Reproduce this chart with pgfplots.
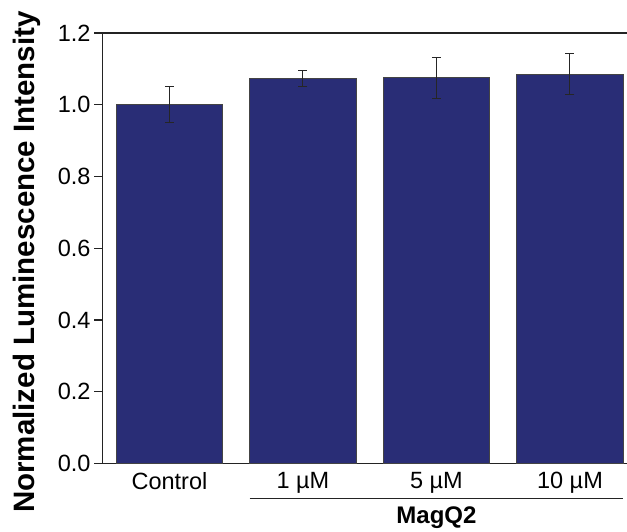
\documentclass[border=0pt]{standalone}
\usepackage{fontspec}
\setmainfont{Liberation Sans}
\usepackage{pgfplots}
\pgfplotsset{compat=1.18}
\definecolor{barblue}{RGB}{41,45,118}
\definecolor{axgray}{RGB}{35,35,35}
\begin{document}
\begin{tikzpicture}
\begin{axis}[
  name=ax,
  scale only axis,
  width=524.3pt, height=430.5pt,
  xmin=-0.5, xmax=3.427,
  ymin=0, ymax=1.2,
  clip=false,
  axis x line=box, axis y line=left,
  axis line style={-, line width=1.4pt, draw=axgray},
  xtick={0,1,2,3},
  xticklabels={Control, 1 µM, 5 µM, 10 µM},
  x tick style={draw=none},
  ytick={0,0.2,0.4,0.6,0.8,1.0,1.2},
  y tick style={line width=1.4pt, draw=axgray},
  tick align=outside,
  major tick length=8.5pt,
  /pgf/number format/assume math mode=true,
  /pgf/number format/fixed,
  /pgf/number format/fixed zerofill,
  /pgf/number format/precision=1,
  tick label style={font=\fontsize{23.5}{28}\selectfont, text=black},
  xticklabel style={inner sep=0pt, anchor=north},
  yticklabel style={inner sep=0pt, anchor=east, xshift=-3.5pt},
]
\addplot[ybar, bar width=0.8, fill=barblue, draw=axgray!85, line width=0.8pt,
  error bars/.cd, y dir=both, y explicit,
  error bar style={line width=1pt, black!85},
  error mark options={rotate=90, mark size=4.5pt, line width=1pt, black!85}]
  table[x=x, y=y, y error=e] {
x y e
0 1.000 0.050
1 1.074 0.022
2 1.075 0.057
3 1.085 0.057
};
\draw[line width=1.2pt, axgray] (axis cs:0.6,-0.097) -- (axis cs:3.4,-0.097);
\node[anchor=base, font=\bfseries\fontsize{24}{28}\selectfont] at (axis cs:2,-0.1686) {MagQ2};
\node[rotate=90, anchor=base, font=\bfseries\fontsize{29.5}{34}\selectfont] at ([xshift=-67.7pt]rel axis cs:0,0.468) {Normalized Luminescence Intensity};
\end{axis}
\pgfresetboundingbox
\path[use as bounding box] ([shift={(-102.7pt,-67.5pt)}]ax.south west) rectangle ([shift={(0pt,33pt)}]ax.north east);
\end{tikzpicture}
\end{document}
